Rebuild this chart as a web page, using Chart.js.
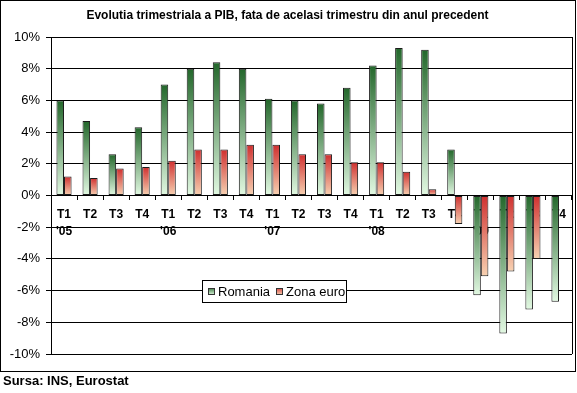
<!DOCTYPE html>
<html>
<head>
<meta charset="utf-8">
<script src="https://cdn.jsdelivr.net/npm/chart.js@4/dist/chart.umd.min.js"></script>
<style>
  html, body { margin: 0; padding: 0; background: #fff; }
  #pib-chart { display: block; }
</style>
</head>
<body>
<canvas id="pib-chart" width="577" height="393"></canvas>
<script>
// date (%, fata de acelasi trimestru din anul precedent)
const quarters = ['T1', 'T2', 'T3', 'T4', 'T1', 'T2', 'T3', 'T4', 'T1', 'T2',
                  'T3', 'T4', 'T1', 'T2', 'T3', 'T4', 'T1', 'T2', 'T3', 'T4'];
const years = ["'05", '', '', '', "'06", '', '', '', "'07", '',
               '', '', "'08", '', '', '', "'09", '', '', ''];
const romania = [6.0, 4.7, 2.6, 4.3, 7.0, 8.0, 8.4, 8.0, 6.1, 6.0,
                 5.8, 6.8, 8.2, 9.3, 9.2, 2.9, -6.3, -8.7, -7.2, -6.7];
const zonaEuro = [1.2, 1.1, 1.7, 1.8, 2.2, 2.9, 2.9, 3.2, 3.2, 2.6,
                  2.6, 2.1, 2.1, 1.5, 0.4, -1.8, -5.1, -4.8, -4.0, null];
const yTicks = [-10, -8, -6, -4, -2, 0, 2, 4, 6, 8, 10];

const titleText = 'Evolutia trimestriala a PIB, fata de acelasi trimestru din anul precedent';
const sourceText = 'Sursa: INS, Eurostat';
const seriesNames = ['Romania', 'Zona euro'];

// culori gradient (sus -> jos)
const greenStops = ['#23672b', '#e2f9e2'];
const redStops = ['#cf2f2f', '#f7d2b2'];

const labels = quarters.map((q, i) => years[i] ? [q, years[i]] : [q]);

// gradient pe fiecare bara, de la capatul de sus la cel de jos
function barGradient(stops) {
    return function(context) {
        const chart = context.chart;
        const y = chart.scales.y;
        if (!chart.chartArea || !y) return stops[0];
        const v = context.raw;
        if (v === null || v === undefined) return stops[0];
        const top = y.getPixelForValue(Math.max(v, 0));
        const bottom = y.getPixelForValue(Math.min(v, 0));
        if (bottom - top < 1) return stops[0];
        const g = chart.ctx.createLinearGradient(0, top, 0, bottom);
        g.addColorStop(0, stops[0]);
        g.addColorStop(1, stops[1]);
        return g;
    };
}

// chenarul exterior + marginea dreapta a zonei de grafic
const framePlugin = {
    id: 'frame',
    afterDraw(chart) {
        const ctx = chart.ctx;
        const a = chart.chartArea;
        ctx.save();
        ctx.strokeStyle = '#000';
        ctx.lineWidth = 1;
        ctx.strokeRect(0.5, 0.5, 575, 371);
        ctx.beginPath();
        ctx.moveTo(Math.round(a.right) + 0.5, a.top);
        ctx.lineTo(Math.round(a.right) + 0.5, a.bottom);
        ctx.stroke();
        ctx.restore();
    }
};

// legenda in interiorul graficului, centrata pe linia de -6%
const boxLegendPlugin = {
    id: 'boxLegend',
    afterDatasetsDraw(chart) {
        const ctx = chart.ctx;
        const a = chart.chartArea;
        const cy = Math.round(chart.scales.y.getPixelForValue(-6));
        const left = Math.round(a.left) + 151;
        const w = 144, h = 22;
        const top = cy - 11;
        ctx.save();
        ctx.fillStyle = '#fff';
        ctx.fillRect(left, top, w, h);
        ctx.strokeStyle = '#000';
        ctx.lineWidth = 1;
        ctx.strokeRect(left + 0.5, top + 0.5, w, h);

        ctx.font = '13px "Liberation Sans", Arial, sans-serif';
        ctx.textBaseline = 'middle';
        ctx.fillStyle = '#000';
        const items = [
            { x: left + 6, stops: greenStops, text: seriesNames[0] },
            { x: left + 74, stops: redStops, text: seriesNames[1] }
        ];
        items.forEach(it => {
            const g = ctx.createLinearGradient(0, cy - 4, 0, cy + 4);
            g.addColorStop(0, it.stops[0]);
            g.addColorStop(1, it.stops[1]);
            ctx.fillStyle = g;
            ctx.fillRect(it.x, cy - 3, 7, 7);
            ctx.strokeStyle = '#333';
            ctx.strokeRect(it.x + 0.5, cy - 2.5, 6, 6);
            ctx.fillStyle = '#000';
            ctx.fillText(it.text, it.x + 10, cy + 1);
        });
        ctx.restore();
    }
};

new Chart(document.getElementById('pib-chart').getContext('2d'), {
    type: 'bar',
    data: {
        labels: labels,
        datasets: [
            {
                label: seriesNames[0],
                data: romania,
                backgroundColor: barGradient(greenStops),
                borderColor: '#1b1b1b',
                borderWidth: 1,
                borderSkipped: false,
                categoryPercentage: 0.58,
                barPercentage: 1.0
            },
            {
                label: seriesNames[1],
                data: zonaEuro,
                backgroundColor: barGradient(redStops),
                borderColor: '#1b1b1b',
                borderWidth: 1,
                borderSkipped: false,
                categoryPercentage: 0.58,
                barPercentage: 1.0
            }
        ]
    },
    options: {
        responsive: false,
        animation: false,
        layout: {
            padding: { left: 3, right: 5, top: 0, bottom: 0 }
        },
        scales: {
            x: {
                position: { y: 0 },
                afterFit: (scale) => { scale.height = 0; },
                grid: {
                    display: true,
                    drawOnChartArea: false,
                    drawTicks: true,
                    tickLength: 4,
                    color: '#000',
                    offset: true
                },
                border: { display: false },
                ticks: {
                    autoSkip: false,
                    maxRotation: 0,
                    padding: 7,
                    color: '#000',
                    font: { family: '"Liberation Sans", Arial, sans-serif', size: 12, weight: 'bold', lineHeight: 1.4 }
                }
            },
            y: {
                min: yTicks[0],
                max: yTicks[yTicks.length - 1],
                afterFit: (scale) => { scale.width = 48; },
                afterBuildTicks: (scale) => { scale.ticks = yTicks.map(v => ({ value: v })); },
                grid: {
                    color: '#000',
                    lineWidth: 1,
                    drawTicks: true,
                    tickLength: 5
                },
                border: { display: true, color: '#000', width: 1 },
                ticks: {
                    padding: 6,
                    color: '#000',
                    font: { family: '"Liberation Sans", Arial, sans-serif', size: 13 },
                    callback: (v) => v + '%'
                }
            }
        },
        plugins: {
            legend: { display: false },
            tooltip: { enabled: false },
            title: {
                display: true,
                text: titleText,
                color: '#000',
                font: { family: '"Liberation Sans", Arial, sans-serif', size: 12, weight: 'bold' },
                padding: { top: 8, bottom: 14.6 }
            },
            subtitle: {
                display: true,
                text: sourceText,
                position: 'bottom',
                align: 'start',
                color: '#000',
                font: { family: '"Liberation Sans", Arial, sans-serif', size: 13, weight: 'bold' },
                padding: { top: 19.7, bottom: 3.7 }
            }
        }
    },
    plugins: [framePlugin, boxLegendPlugin]
});
</script>
</body>
</html>
